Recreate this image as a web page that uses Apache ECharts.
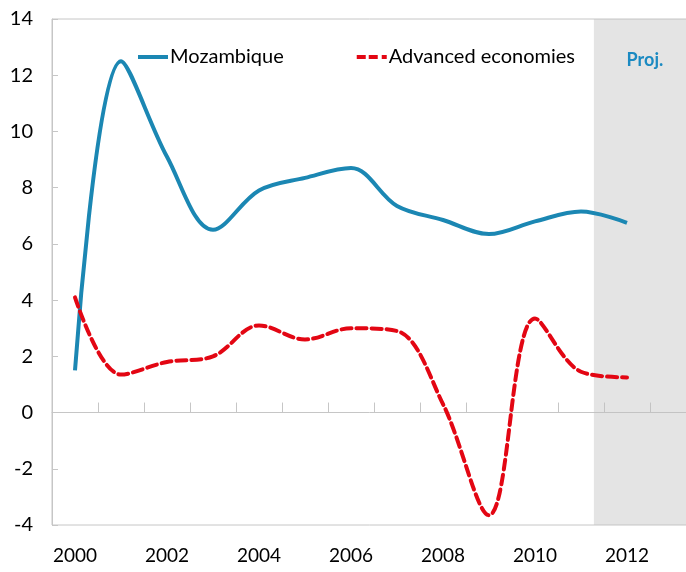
<!DOCTYPE html>
<html>
<head>
<meta charset="utf-8">
<script src="https://cdn.jsdelivr.net/npm/echarts@6/dist/echarts.min.js"></script>
<style>
  html, body { margin: 0; padding: 0; background: #fff; }
  #chart { width: 686px; height: 572px; }
</style>
</head>
<body>
<div id="chart"></div>
<script>
var years = ['2000', '2001', '2002', '2003', '2004', '2005', '2006',
             '2007', '2008', '2009', '2010', '2011', '2012', '2013'];
var mozambique = [1.5, 12.5, 9.1, 6.5, 7.9, 8.35, 8.7, 7.35, 6.85, 6.35, 6.8, 7.15, 6.75];
var advanced = [4.1, 1.35, 1.8, 2.0, 3.1, 2.6, 3.0, 2.9, 0.3, -3.65, 3.35, 1.45, 1.25];
var projStart = 11.28;   // where the shaded projection band starts (years after 2000)
var projEnd = 13.5;

var font = 'Lato, "Noto Sans", sans-serif';
var chart = echarts.init(document.getElementById('chart'));

var option = {
    animation: false,
    grid: {
        left: 52,
        top: 19,
        bottom: 47,
        width: 644,
        outerBoundsMode: 'none',
        show: true,
        borderColor: '#c6c6c6',
        borderWidth: 1
    },
    legend: {
        left: 133,
        top: 42,
        itemGap: 73,
        itemWidth: 30,
        itemHeight: 4,
        textStyle: { fontFamily: font, fontSize: 20, color: '#000', padding: [0, 0, 0, -3] },
        data: [
            { name: 'Mozambique', icon: 'path://M0,0h30v4h-30z' },
            { name: 'Advanced economies', icon: 'path://M0,0h9v4h-9z M12,0h9v4h-9z M25,0h5v4h-5z' }
        ]
    },
    xAxis: [
        {
            type: 'category',
            data: years,
            boundaryGap: true,
            position: 'bottom',
            axisLine: { show: false, onZero: false },
            axisTick: { show: false },
            axisLabel: {
                interval: 1,
                margin: 21,
                fontFamily: font,
                fontSize: 19,
                color: '#000'
            }
        },
        {
            type: 'category',
            data: years,
            boundaryGap: true,
            axisLine: { show: true, onZero: true, lineStyle: { color: '#c6c6c6', width: 1 } },
            axisTick: { show: true, inside: false, length: 10, lineStyle: { color: '#c6c6c6' } },
            axisLabel: { show: false }
        },
        {
            type: 'value',
            min: -0.5,
            max: 13.5,
            show: false
        }
    ],
    yAxis: {
        type: 'value',
        min: -4,
        max: 14,
        interval: 2,
        axisLine: { show: true, onZero: false, lineStyle: { color: '#c6c6c6' } },
        axisTick: { show: true, inside: true, length: 6, lineStyle: { color: '#c6c6c6' } },
        splitLine: { show: false },
        axisLabel: {
            margin: 19,
            fontFamily: font,
            fontSize: 20,
            color: '#000'
        }
    },
    series: [
        {
            name: 'Mozambique',
            type: 'line',
            xAxisIndex: 0,
            data: mozambique,
            smooth: 0.35,
            symbol: 'none',
            z: 2,
            itemStyle: { color: '#1b87b3' },
            lineStyle: { color: '#1b87b3', width: 4 }
        },
        {
            name: 'Advanced economies',
            type: 'line',
            xAxisIndex: 0,
            data: advanced,
            smooth: 0.35,
            symbol: 'none',
            z: 2,
            itemStyle: { color: '#e30613' },
            lineStyle: { color: '#e30613', width: 4, type: [10, 5], cap: 'round' }
        },
        {
            name: 'proj',
            type: 'line',
            xAxisIndex: 2,
            data: [],
            z: 5,
            silent: true,
            markArea: {
                silent: true,
                itemStyle: { color: 'rgba(190,190,190,0.42)' },
                label: {
                    show: true,
                    position: 'insideTop',
                    distance: 32,
                    formatter: 'Proj.',
                    fontFamily: font,
                    fontWeight: 'bold',
                    fontSize: 18,
                    color: '#1b8ac2'
                },
                data: [[
                    { xAxis: projStart, yAxis: 14 },
                    { xAxis: projEnd, yAxis: -4 }
                ]]
            }
        }
    ]
};

chart.setOption(option);
</script>
</body>
</html>
